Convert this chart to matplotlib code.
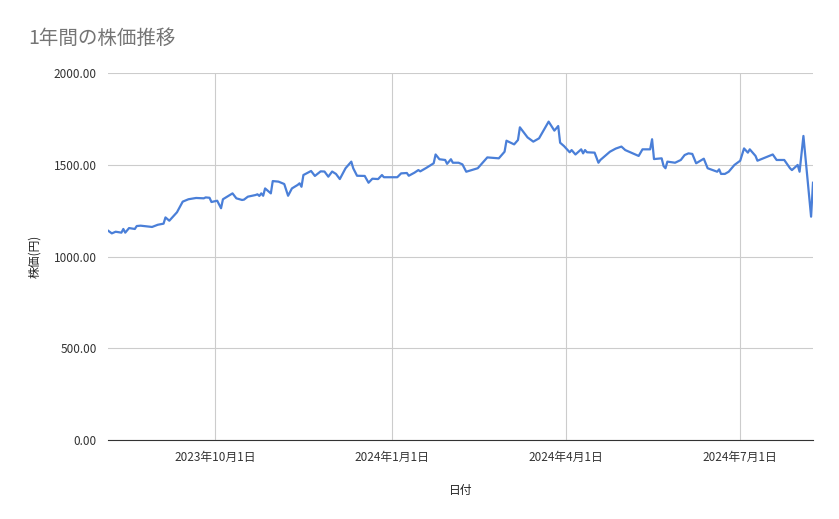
import matplotlib
matplotlib.use("Agg")
import matplotlib.pyplot as plt
import matplotlib.dates as mdates
import datetime as dt

plt.rcParams['font.family'] = ['Noto Sans CJK JP', 'DejaVu Sans']

start_date = dt.date(2023, 8, 6)
day_offsets = [0, 2, 4, 7, 8, 9, 11, 14, 15, 17, 23, 26, 29, 30, 32, 36, 39, 42, 46, 50, 51, 53, 54, 57, 59, 60,
               65, 67, 70, 71, 73, 77, 78, 79, 80, 81, 82, 85, 86, 89, 92, 94, 96, 99, 100, 101, 102, 106, 108,
               111, 113, 115, 117, 119, 121, 124, 127, 128, 130, 134, 136, 138, 141, 143, 144, 151, 153, 156,
               157, 160, 162, 163, 166, 170, 171, 173, 176, 177, 179, 180, 183, 185, 187, 193, 198, 204, 207,
               208, 212, 214, 215, 219, 222, 225, 230, 233, 235, 236, 238, 241, 242, 244, 247, 248, 249, 250,
               254, 256, 257, 262, 265, 268, 270, 277, 279, 283, 284, 285, 289, 290, 291, 292, 296, 299, 301,
               303, 305, 307, 311, 313, 318, 319, 320, 322, 324, 327, 330, 332, 334, 335, 338, 339, 347, 349,
               353, 356, 357, 360, 361, 363, 367, 368]
prices = [1141, 1126, 1135, 1130, 1150, 1130, 1155, 1150, 1166, 1168, 1161, 1173, 1179, 1213, 1195, 1241, 1299,
          1312, 1319, 1317, 1322, 1320, 1297, 1304, 1263, 1312, 1344, 1317, 1308, 1310, 1326, 1335, 1339, 1330,
          1344, 1331, 1371, 1344, 1411, 1408, 1395, 1331, 1371, 1390, 1399, 1380, 1444, 1466, 1439, 1464, 1463,
          1435, 1463, 1450, 1422, 1481, 1517, 1481, 1440, 1439, 1402, 1424, 1422, 1444, 1432, 1432, 1453, 1455,
          1440, 1457, 1471, 1464, 1482, 1508, 1556, 1530, 1526, 1505, 1530, 1511, 1511, 1502, 1462, 1481, 1540,
          1535, 1571, 1631, 1611, 1635, 1704, 1649, 1626, 1644, 1735, 1686, 1711, 1620, 1602, 1568, 1580, 1556,
          1584, 1562, 1580, 1568, 1566, 1511, 1526, 1571, 1588, 1599, 1580, 1548, 1584, 1584, 1639, 1531, 1535,
          1493, 1481, 1517, 1511, 1526, 1553, 1562, 1559, 1508, 1533, 1481, 1462, 1475, 1450, 1450, 1462, 1499,
          1522, 1589, 1566, 1584, 1548, 1522, 1556, 1526, 1526, 1481, 1471, 1499, 1462, 1657, 1217, 1402]
tick_dates = [dt.date(2023, 10, 1), dt.date(2024, 1, 1), dt.date(2024, 4, 1), dt.date(2024, 7, 1)]
tick_labels = ["2023年10月1日", "2024年1月1日", "2024年4月1日", "2024年7月1日"]
y_ticks = [0, 500, 1000, 1500, 2000]

dates = [start_date + dt.timedelta(days=d) for d in day_offsets]

fig = plt.figure(figsize=(8.39, 5.19), dpi=100)
ax = fig.add_axes([108/839, 1-440/519, (813-108)/839, (440-73)/519])
ax.plot(dates, prices, color='#4a7fd8', lw=1.6)
ax.set_xlim(start_date, start_date + dt.timedelta(days=368.5))
ax.set_ylim(0, 2000)
ax.set_yticks(y_ticks)
ax.set_yticklabels([f"{v:.2f}" for v in y_ticks])
ax.set_xticks(tick_dates)
ax.set_xticklabels(tick_labels)
ax.grid(True, color='#cccccc', lw=0.8)
ax.set_axisbelow(True)
for s in ['top', 'right', 'left']:
    ax.spines[s].set_visible(False)
ax.spines['bottom'].set_color('#333333')
ax.tick_params(length=0, labelsize=8.5, colors='#333333', pad=8)
ax.set_xlabel("日付", fontsize=8.5, color='#222222', labelpad=14)
ax.set_ylabel("株価(円)", fontsize=8.5, color='#222222', labelpad=9)
fig.text(28/839, 1-38/519, "1年間の株価推移", fontsize=14, color='#757575', va='center')
fig.savefig("out.png", dpi=100)
